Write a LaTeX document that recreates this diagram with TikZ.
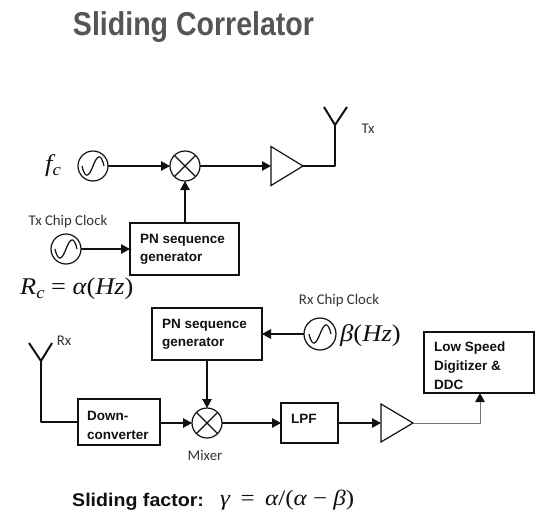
\documentclass[tikz,border=0pt]{standalone}
\usepackage{fontspec}
\setmainfont{Liberation Sans}
\newfontfamily\calib{Carlito}
\newfontfamily\eqfont{Liberation Serif}
\usetikzlibrary{arrows.meta,shapes.geometric}
\definecolor{ink}{HTML}{111111}
\definecolor{titlegray}{HTML}{555555}
\definecolor{lblgray}{HTML}{333333}
\tikzset{
  wire/.style={draw=ink,line width=1.2pt},
  thickwire/.style={draw=ink,line width=2pt},
  sig/.style={wire,-{Triangle[length=9pt,width=9.5pt]}},
  blockbox/.style={draw=ink,line width=1.3pt,inner sep=0pt,outer sep=0pt},
  round/.style={circle,draw=ink,line width=1.2pt,minimum size=#1,inner sep=0pt,outer sep=0pt},
  amp/.style={isosceles triangle,isosceles triangle apex angle=60,isosceles triangle stretches,draw=ink,line width=1.2pt,inner sep=0pt,outer sep=0pt,minimum width=#1,minimum height=32pt},
  blocktext/.style={font=\fontsize{13.5}{15}\selectfont\bfseries,text=ink,anchor=base west,inner sep=0pt},
  smalllbl/.style={font=\calib\fontsize{14.8}{16}\selectfont,text=lblgray,inner sep=0pt},
  eqlbl/.style={font=\eqfont\fontsize{24}{26}\selectfont,text=ink,inner sep=0pt,anchor=base west}
}
\newcommand{\vv}[1]{{\itshape #1}}
\newcommand{\subc}{\raisebox{-4pt}{\fontsize{17}{17}\selectfont\itshape c}}
\newcommand{\sinewave}[1]{%
  \draw[ink,line width=1.2pt] ([xshift=-11pt]#1.center) .. controls +(3.5pt,-15pt) and +(-3.5pt,-9pt) .. (#1.center) .. controls +(3.5pt,9pt) and +(-3.5pt,15pt) .. ([xshift=11pt]#1.center);}
\newcommand{\crossin}[1]{%
  \draw[ink,line width=1.2pt] (#1.45)--(#1.225) (#1.135)--(#1.315);}
\begin{document}
\begin{tikzpicture}[x=1pt,y=-1pt]
\useasboundingbox (0,0) rectangle (550,528);
\node[inner sep=0pt,anchor=base,text=titlegray,font=\fontsize{33}{36}\selectfont\bfseries] (title) at (193.5,35) {\scalebox{0.865}[1]{Sliding Correlator}};
% Tx chain
\node[round=30pt] (fcosc) at (93,166) {};
\sinewave{fcosc}
\node[eqlbl] (fclbl) at (45,171) {\scalebox{1.1}[1]{\vv{f}\subc}};
\node[round=30pt] (txmix) at (185,166) {};
\crossin{txmix}
\node[amp=39pt,anchor=lower side] (txamp) at (271,166) {};
\coordinate (txfeed) at (335,166);
\coordinate (txroot) at (335,125);
\coordinate (txl) at (324,107);
\coordinate (txr) at (347,107);
\draw[thickwire,line join=round] (txamp.apex) -- (txfeed) -- (txroot);
\draw[thickwire,line join=round] (txl) -- (txroot) -- (txr);
\node[smalllbl] (txlbl) at (368,129) {Tx};
\node[round=30pt] (txclk) at (66,249) {};
\sinewave{txclk}
\node[smalllbl] (txclbl) at (68,222) {Tx Chip Clock};
\node[blockbox,minimum width=109pt,minimum height=52pt] (txpn) at (184.5,249) {};
\node[blocktext] (txpna) at (140,243) {PN sequence};
\node[blocktext] (txpnb) at (140,261) {generator};
\node[eqlbl] (rclbl) at (20,294) {\scalebox{1.1}[1]{\vv{R}\subc{} = \vv{α}(\vv{Hz})}};
\draw[sig] (fcosc) -- (txmix);
\draw[sig] (txmix) -- (txamp.lower side);
\draw[sig] (txclk) -- (txpn);
\draw[sig] (txpn.north -| txmix) -- (txmix);
% Rx chain
\node[blockbox,minimum width=110pt,minimum height=52pt] (rxpn) at (207,334) {};
\node[blocktext] (rxpna) at (162,328) {PN sequence};
\node[blocktext] (rxpnb) at (162,346) {generator};
\node[round=32pt] (rxclk) at (320,334) {};
\sinewave{rxclk}
\node[smalllbl] (rxclbl) at (339,301) {Rx Chip Clock};
\node[eqlbl] (betalbl) at (340,341) {\scalebox{1.11}[1]{\vv{β}(\vv{Hz})}};
\coordinate (rxfeed) at (41,422);
\coordinate (rxroot) at (41,361);
\coordinate (rxl) at (29,343);
\coordinate (rxr) at (52,343);
\node[smalllbl] (rxlbl) at (64,341) {Rx};
\node[blockbox,minimum width=82pt,minimum height=46pt] (down) at (119,422) {};
\node[blocktext] (downa) at (87,420) {Down-};
\node[blocktext] (downb) at (87,439) {converter};
\draw[thickwire,line join=round] (down.west) -- (rxfeed) -- (rxroot);
\draw[thickwire,line join=round] (rxl) -- (rxroot) -- (rxr);
\node[round=30pt] (rxmix) at (207,423) {};
\crossin{rxmix}
\node[smalllbl] (mixlbl) at (205,455) {Mixer};
\node[blockbox,minimum width=57pt,minimum height=40pt] (lpf) at (309.5,423) {};
\node[blocktext] (lpft) at (291,423) {LPF};
\node[amp=38pt,anchor=lower side] (rxamp) at (381,423) {};
\node[blockbox,minimum width=110pt,minimum height=61pt] (dig) at (479,362.5) {};
\node[blocktext] (diga) at (434,351) {Low Speed};
\node[blocktext] (digb) at (434,370) {Digitizer \&};
\node[blocktext] (digc) at (434,389) {DDC};
\draw[sig] (rxclk) -- (rxpn);
\draw[sig] (rxpn) -- (rxmix);
\draw[sig] (down.east |- rxmix) -- (rxmix);
\draw[sig] (rxmix) -- (lpf);
\draw[sig] (lpf) -- (rxamp.lower side);
\draw[draw=black!55,line width=1pt,-{Triangle[length=9pt,width=9.5pt,color=ink]}] (rxamp.apex) -| (dig.south -| 480,393);
% Sliding factor
\node[inner sep=0pt,anchor=base west,text=ink,font=\fontsize{20}{21}\selectfont\bfseries] (slide) at (72,506) {\scalebox{0.98}[0.92]{Sliding factor:}};
\node[eqlbl,font=\eqfont\fontsize{22}{24}\selectfont] (gamma) at (220,505) {\scalebox{1.14}[1]{\vv{γ}\,\ =\ \,\vv{α}/(\vv{α}\ −\ \vv{β})}};
\end{tikzpicture}
\end{document}
